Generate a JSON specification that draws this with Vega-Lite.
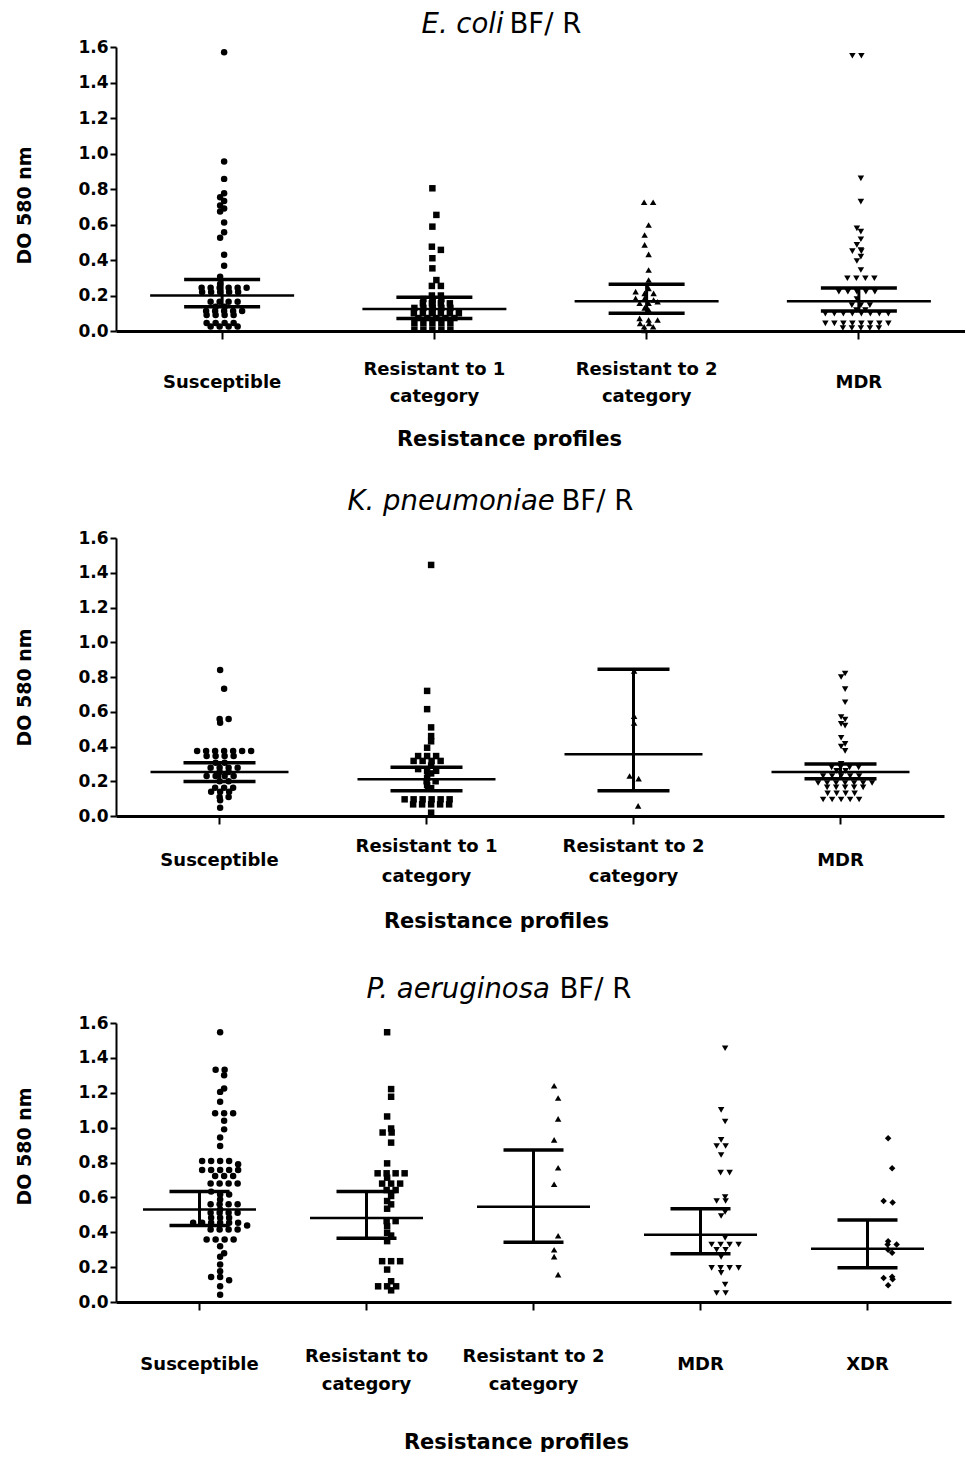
{
"$schema": "https://vega.github.io/schema/vega-lite/v6.json",
"padding": {"left": 14, "top": 10, "right": 0, "bottom": 0},
"bounds": "flush",
"spacing": 207,
"config": {
 "view": {"stroke": null},
 "axis": {"grid": false},
 "axisX": {"labelFont": "DejaVu Sans", "labelFontSize": 18, "labelFontWeight": "bold", "labelColor": "black", "labelAngle": 0, "labelBaseline": "middle", "labelOverlap": false, "labelLimit": 400,
  "tickSize": 8, "tickWidth": 2, "tickColor": "black", "domainColor": "black", "domainWidth": 3,
  "titleFont": "DejaVu Sans", "titleFontSize": 21, "titleFontWeight": "bold", "titleColor": "black", "titleBaseline": "middle", "titleAlign": "center"},
 "axisY": {"labelFont": "DejaVu Sans", "labelFontSize": 17, "labelFontWeight": "bold", "labelColor": "black", "labelPadding": 2, "labelOverlap": false, "tickSize": 6, "tickWidth": 2, "tickColor": "black", "domainColor": "black", "domainWidth": 2,
  "titleFont": "DejaVu Sans", "titleFontSize": 19, "titleFontWeight": "bold", "titleColor": "black", "titleBaseline": "middle", "titleAlign": "center"}
},
"datasets": {
"pts": [
{"p":"E","c":"S","v":1.57},{"p":"E","c":"S","v":0.955},{"p":"E","c":"S","v":0.857},{"p":"E","c":"S","v":0.776},{"p":"E","c":"S","v":0.754},{"p":"E","c":"S","v":0.733},{"p":"E","c":"S","v":0.707},{"p":"E","c":"S","v":0.69},{"p":"E","c":"S","v":0.673},{"p":"E","c":"S","v":0.611},{"p":"E","c":"S","v":0.556},{"p":"E","c":"S","v":0.526},{"p":"E","c":"S","v":0.429},{"p":"E","c":"S","v":0.367},{"p":"E","c":"S","v":0.306},{"p":"E","c":"S","v":0.265},
{"p":"E","c":"S","v":0.244},{"p":"E","c":"S","v":0.244},{"p":"E","c":"S","v":0.244},{"p":"E","c":"S","v":0.244},{"p":"E","c":"S","v":0.244},{"p":"E","c":"S","v":0.244},
{"p":"E","c":"S","v":0.22},{"p":"E","c":"S","v":0.22},{"p":"E","c":"S","v":0.22},{"p":"E","c":"S","v":0.22},{"p":"E","c":"S","v":0.22},
{"p":"E","c":"S","v":0.165},{"p":"E","c":"S","v":0.165},{"p":"E","c":"S","v":0.165},{"p":"E","c":"S","v":0.165},
{"p":"E","c":"S","v":0.137},{"p":"E","c":"S","v":0.137},
{"p":"E","c":"S","v":0.113},{"p":"E","c":"S","v":0.113},{"p":"E","c":"S","v":0.113},{"p":"E","c":"S","v":0.113},{"p":"E","c":"S","v":0.113},
{"p":"E","c":"S","v":0.09},{"p":"E","c":"S","v":0.09},{"p":"E","c":"S","v":0.09},{"p":"E","c":"S","v":0.09},
{"p":"E","c":"S","v":0.045},{"p":"E","c":"S","v":0.045},{"p":"E","c":"S","v":0.045},{"p":"E","c":"S","v":0.045},
{"p":"E","c":"S","v":0.025},{"p":"E","c":"S","v":0.025},{"p":"E","c":"S","v":0.025},{"p":"E","c":"S","v":0.025},

{"p":"E","c":"R1","v":0.804},{"p":"E","c":"R1","v":0.654},{"p":"E","c":"R1","v":0.588},{"p":"E","c":"R1","v":0.475},{"p":"E","c":"R1","v":0.457},{"p":"E","c":"R1","v":0.41},{"p":"E","c":"R1","v":0.353},{"p":"E","c":"R1","v":0.287},{"p":"E","c":"R1","v":0.254},{"p":"E","c":"R1","v":0.254},
{"p":"E","c":"R1","v":0.2},{"p":"E","c":"R1","v":0.2},{"p":"E","c":"R1","v":0.18},{"p":"E","c":"R1","v":0.18},{"p":"E","c":"R1","v":0.18},
{"p":"E","c":"R1","v":0.156},{"p":"E","c":"R1","v":0.156},{"p":"E","c":"R1","v":0.156},{"p":"E","c":"R1","v":0.156},
{"p":"E","c":"R1","v":0.13},{"p":"E","c":"R1","v":0.13},{"p":"E","c":"R1","v":0.13},{"p":"E","c":"R1","v":0.13},{"p":"E","c":"R1","v":0.13},
{"p":"E","c":"R1","v":0.1},{"p":"E","c":"R1","v":0.1},{"p":"E","c":"R1","v":0.1},{"p":"E","c":"R1","v":0.1},{"p":"E","c":"R1","v":0.1},{"p":"E","c":"R1","v":0.1},
{"p":"E","c":"R1","v":0.073},{"p":"E","c":"R1","v":0.073},{"p":"E","c":"R1","v":0.073},{"p":"E","c":"R1","v":0.073},{"p":"E","c":"R1","v":0.073},
{"p":"E","c":"R1","v":0.045},{"p":"E","c":"R1","v":0.045},{"p":"E","c":"R1","v":0.045},{"p":"E","c":"R1","v":0.045},{"p":"E","c":"R1","v":0.045},
{"p":"E","c":"R1","v":0.008},{"p":"E","c":"R1","v":0.008},{"p":"E","c":"R1","v":0.008},{"p":"E","c":"R1","v":0.008},{"p":"E","c":"R1","v":0.008},

{"p":"E","c":"R2","v":0.725},{"p":"E","c":"R2","v":0.725},{"p":"E","c":"R2","v":0.597},{"p":"E","c":"R2","v":0.541},{"p":"E","c":"R2","v":0.485},{"p":"E","c":"R2","v":0.432},{"p":"E","c":"R2","v":0.344},{"p":"E","c":"R2","v":0.287},{"p":"E","c":"R2","v":0.24},{"p":"E","c":"R2","v":0.222},{"p":"E","c":"R2","v":0.212},{"p":"E","c":"R2","v":0.212},{"p":"E","c":"R2","v":0.184},{"p":"E","c":"R2","v":0.184},{"p":"E","c":"R2","v":0.175},{"p":"E","c":"R2","v":0.156},{"p":"E","c":"R2","v":0.156},{"p":"E","c":"R2","v":0.165},{"p":"E","c":"R2","v":0.13},{"p":"E","c":"R2","v":0.12},{"p":"E","c":"R2","v":0.071},{"p":"E","c":"R2","v":0.062},{"p":"E","c":"R2","v":0.062},{"p":"E","c":"R2","v":0.043},{"p":"E","c":"R2","v":0.043},{"p":"E","c":"R2","v":0.024},{"p":"E","c":"R2","v":0.024},{"p":"E","c":"R2","v":0.003},

{"p":"E","c":"MDR","v":1.551},{"p":"E","c":"MDR","v":1.551},{"p":"E","c":"MDR","v":0.86},{"p":"E","c":"MDR","v":0.729},{"p":"E","c":"MDR","v":0.578},{"p":"E","c":"MDR","v":0.56},{"p":"E","c":"MDR","v":0.517},{"p":"E","c":"MDR","v":0.485},{"p":"E","c":"MDR","v":0.456},{"p":"E","c":"MDR","v":0.45},{"p":"E","c":"MDR","v":0.45},{"p":"E","c":"MDR","v":0.419},{"p":"E","c":"MDR","v":0.394},{"p":"E","c":"MDR","v":0.344},
{"p":"E","c":"MDR","v":0.297},{"p":"E","c":"MDR","v":0.297},{"p":"E","c":"MDR","v":0.297},{"p":"E","c":"MDR","v":0.297},
{"p":"E","c":"MDR","v":0.221},{"p":"E","c":"MDR","v":0.221},{"p":"E","c":"MDR","v":0.221},{"p":"E","c":"MDR","v":0.221},{"p":"E","c":"MDR","v":0.221},
{"p":"E","c":"MDR","v":0.18},{"p":"E","c":"MDR","v":0.146},{"p":"E","c":"MDR","v":0.146},{"p":"E","c":"MDR","v":0.146},{"p":"E","c":"MDR","v":0.118},{"p":"E","c":"MDR","v":0.118},
{"p":"E","c":"MDR","v":0.098},{"p":"E","c":"MDR","v":0.098},{"p":"E","c":"MDR","v":0.098},{"p":"E","c":"MDR","v":0.098},{"p":"E","c":"MDR","v":0.098},{"p":"E","c":"MDR","v":0.098},{"p":"E","c":"MDR","v":0.098},{"p":"E","c":"MDR","v":0.098},
{"p":"E","c":"MDR","v":0.043},{"p":"E","c":"MDR","v":0.043},{"p":"E","c":"MDR","v":0.043},{"p":"E","c":"MDR","v":0.043},{"p":"E","c":"MDR","v":0.043},{"p":"E","c":"MDR","v":0.043},{"p":"E","c":"MDR","v":0.043},{"p":"E","c":"MDR","v":0.043},
{"p":"E","c":"MDR","v":0.017},{"p":"E","c":"MDR","v":0.017},{"p":"E","c":"MDR","v":0.017},{"p":"E","c":"MDR","v":0.017},{"p":"E","c":"MDR","v":0.017},

{"p":"K","c":"S","v":0.84},{"p":"K","c":"S","v":0.733},{"p":"K","c":"S","v":0.558},{"p":"K","c":"S","v":0.558},{"p":"K","c":"S","v":0.537},
{"p":"K","c":"S","v":0.374},{"p":"K","c":"S","v":0.374},{"p":"K","c":"S","v":0.374},{"p":"K","c":"S","v":0.374},{"p":"K","c":"S","v":0.374},{"p":"K","c":"S","v":0.374},{"p":"K","c":"S","v":0.374},
{"p":"K","c":"S","v":0.345},{"p":"K","c":"S","v":0.345},{"p":"K","c":"S","v":0.345},{"p":"K","c":"S","v":0.345},
{"p":"K","c":"S","v":0.307},{"p":"K","c":"S","v":0.307},
{"p":"K","c":"S","v":0.278},{"p":"K","c":"S","v":0.278},{"p":"K","c":"S","v":0.278},{"p":"K","c":"S","v":0.278},
{"p":"K","c":"S","v":0.253},{"p":"K","c":"S","v":0.253},
{"p":"K","c":"S","v":0.23},{"p":"K","c":"S","v":0.23},{"p":"K","c":"S","v":0.23},{"p":"K","c":"S","v":0.23},
{"p":"K","c":"S","v":0.2},{"p":"K","c":"S","v":0.2},
{"p":"K","c":"S","v":0.163},{"p":"K","c":"S","v":0.163},{"p":"K","c":"S","v":0.163},
{"p":"K","c":"S","v":0.14},{"p":"K","c":"S","v":0.14},{"p":"K","c":"S","v":0.14},
{"p":"K","c":"S","v":0.11},{"p":"K","c":"S","v":0.11},{"p":"K","c":"S","v":0.09},{"p":"K","c":"S","v":0.048},

{"p":"K","c":"R1","v":1.445},{"p":"K","c":"R1","v":0.72},{"p":"K","c":"R1","v":0.615},{"p":"K","c":"R1","v":0.51},{"p":"K","c":"R1","v":0.46},{"p":"K","c":"R1","v":0.43},{"p":"K","c":"R1","v":0.393},
{"p":"K","c":"R1","v":0.345},{"p":"K","c":"R1","v":0.345},{"p":"K","c":"R1","v":0.345},
{"p":"K","c":"R1","v":0.317},{"p":"K","c":"R1","v":0.317},{"p":"K","c":"R1","v":0.317},{"p":"K","c":"R1","v":0.317},
{"p":"K","c":"R1","v":0.29},{"p":"K","c":"R1","v":0.27},{"p":"K","c":"R1","v":0.26},{"p":"K","c":"R1","v":0.26},{"p":"K","c":"R1","v":0.245},{"p":"K","c":"R1","v":0.22},{"p":"K","c":"R1","v":0.2},{"p":"K","c":"R1","v":0.2},{"p":"K","c":"R1","v":0.178},{"p":"K","c":"R1","v":0.16},
{"p":"K","c":"R1","v":0.096},{"p":"K","c":"R1","v":0.096},{"p":"K","c":"R1","v":0.096},{"p":"K","c":"R1","v":0.096},{"p":"K","c":"R1","v":0.096},{"p":"K","c":"R1","v":0.096},
{"p":"K","c":"R1","v":0.067},{"p":"K","c":"R1","v":0.067},{"p":"K","c":"R1","v":0.067},{"p":"K","c":"R1","v":0.067},{"p":"K","c":"R1","v":0.067},
{"p":"K","c":"R1","v":0.019},

{"p":"K","c":"R2","v":0.835},{"p":"K","c":"R2","v":0.575},{"p":"K","c":"R2","v":0.535},{"p":"K","c":"R2","v":0.23},{"p":"K","c":"R2","v":0.215},{"p":"K","c":"R2","v":0.058},

{"p":"K","c":"MDR","v":0.82},{"p":"K","c":"MDR","v":0.8},{"p":"K","c":"MDR","v":0.73},{"p":"K","c":"MDR","v":0.655},{"p":"K","c":"MDR","v":0.57},{"p":"K","c":"MDR","v":0.555},{"p":"K","c":"MDR","v":0.53},{"p":"K","c":"MDR","v":0.52},{"p":"K","c":"MDR","v":0.45},{"p":"K","c":"MDR","v":0.415},{"p":"K","c":"MDR","v":0.4},{"p":"K","c":"MDR","v":0.375},{"p":"K","c":"MDR","v":0.3},
{"p":"K","c":"MDR","v":0.28},{"p":"K","c":"MDR","v":0.28},{"p":"K","c":"MDR","v":0.28},{"p":"K","c":"MDR","v":0.28},
{"p":"K","c":"MDR","v":0.26},{"p":"K","c":"MDR","v":0.26},
{"p":"K","c":"MDR","v":0.23},{"p":"K","c":"MDR","v":0.23},{"p":"K","c":"MDR","v":0.23},{"p":"K","c":"MDR","v":0.23},{"p":"K","c":"MDR","v":0.23},
{"p":"K","c":"MDR","v":0.19},{"p":"K","c":"MDR","v":0.19},{"p":"K","c":"MDR","v":0.19},{"p":"K","c":"MDR","v":0.19},{"p":"K","c":"MDR","v":0.19},{"p":"K","c":"MDR","v":0.19},{"p":"K","c":"MDR","v":0.19},
{"p":"K","c":"MDR","v":0.165},{"p":"K","c":"MDR","v":0.165},{"p":"K","c":"MDR","v":0.165},{"p":"K","c":"MDR","v":0.165},{"p":"K","c":"MDR","v":0.165},
{"p":"K","c":"MDR","v":0.13},{"p":"K","c":"MDR","v":0.13},{"p":"K","c":"MDR","v":0.13},{"p":"K","c":"MDR","v":0.13},
{"p":"K","c":"MDR","v":0.095},{"p":"K","c":"MDR","v":0.095},{"p":"K","c":"MDR","v":0.095},{"p":"K","c":"MDR","v":0.095},{"p":"K","c":"MDR","v":0.095},

{"p":"P","c":"S","v":1.547},{"p":"P","c":"S","v":1.332},{"p":"P","c":"S","v":1.332},{"p":"P","c":"S","v":1.3},{"p":"P","c":"S","v":1.225},{"p":"P","c":"S","v":1.205},{"p":"P","c":"S","v":1.148},{"p":"P","c":"S","v":1.083},{"p":"P","c":"S","v":1.083},{"p":"P","c":"S","v":1.083},{"p":"P","c":"S","v":1.04},{"p":"P","c":"S","v":0.99},{"p":"P","c":"S","v":0.943},{"p":"P","c":"S","v":0.895},
{"p":"P","c":"S","v":0.809},{"p":"P","c":"S","v":0.809},{"p":"P","c":"S","v":0.809},{"p":"P","c":"S","v":0.809},{"p":"P","c":"S","v":0.79},
{"p":"P","c":"S","v":0.757},{"p":"P","c":"S","v":0.757},{"p":"P","c":"S","v":0.757},{"p":"P","c":"S","v":0.757},{"p":"P","c":"S","v":0.757},
{"p":"P","c":"S","v":0.723},{"p":"P","c":"S","v":0.723},{"p":"P","c":"S","v":0.723},
{"p":"P","c":"S","v":0.679},{"p":"P","c":"S","v":0.679},{"p":"P","c":"S","v":0.679},{"p":"P","c":"S","v":0.679},
{"p":"P","c":"S","v":0.633},{"p":"P","c":"S","v":0.617},{"p":"P","c":"S","v":0.617},{"p":"P","c":"S","v":0.588},
{"p":"P","c":"S","v":0.56},{"p":"P","c":"S","v":0.56},{"p":"P","c":"S","v":0.56},{"p":"P","c":"S","v":0.56},{"p":"P","c":"S","v":0.531},
{"p":"P","c":"S","v":0.512},{"p":"P","c":"S","v":0.512},{"p":"P","c":"S","v":0.512},{"p":"P","c":"S","v":0.512},
{"p":"P","c":"S","v":0.483},{"p":"P","c":"S","v":0.483},{"p":"P","c":"S","v":0.483},
{"p":"P","c":"S","v":0.454},{"p":"P","c":"S","v":0.454},{"p":"P","c":"S","v":0.454},{"p":"P","c":"S","v":0.454},{"p":"P","c":"S","v":0.454},{"p":"P","c":"S","v":0.454},{"p":"P","c":"S","v":0.439},
{"p":"P","c":"S","v":0.416},{"p":"P","c":"S","v":0.416},{"p":"P","c":"S","v":0.416},{"p":"P","c":"S","v":0.416},
{"p":"P","c":"S","v":0.358},{"p":"P","c":"S","v":0.358},{"p":"P","c":"S","v":0.358},{"p":"P","c":"S","v":0.358},
{"p":"P","c":"S","v":0.32},{"p":"P","c":"S","v":0.28},{"p":"P","c":"S","v":0.26},{"p":"P","c":"S","v":0.215},{"p":"P","c":"S","v":0.176},{"p":"P","c":"S","v":0.144},{"p":"P","c":"S","v":0.144},{"p":"P","c":"S","v":0.125},{"p":"P","c":"S","v":0.09},{"p":"P","c":"S","v":0.042},

{"p":"P","c":"R1","v":1.547},{"p":"P","c":"R1","v":1.221},{"p":"P","c":"R1","v":1.177},{"p":"P","c":"R1","v":1.064},{"p":"P","c":"R1","v":0.995},{"p":"P","c":"R1","v":0.972},{"p":"P","c":"R1","v":0.972},{"p":"P","c":"R1","v":0.914},{"p":"P","c":"R1","v":0.795},
{"p":"P","c":"R1","v":0.738},{"p":"P","c":"R1","v":0.738},{"p":"P","c":"R1","v":0.738},{"p":"P","c":"R1","v":0.738},{"p":"P","c":"R1","v":0.713},
{"p":"P","c":"R1","v":0.679},{"p":"P","c":"R1","v":0.679},{"p":"P","c":"R1","v":0.679},{"p":"P","c":"R1","v":0.642},{"p":"P","c":"R1","v":0.642},
{"p":"P","c":"R1","v":0.608},{"p":"P","c":"R1","v":0.579},{"p":"P","c":"R1","v":0.56},{"p":"P","c":"R1","v":0.535},{"p":"P","c":"R1","v":0.464},{"p":"P","c":"R1","v":0.464},{"p":"P","c":"R1","v":0.435},{"p":"P","c":"R1","v":0.397},{"p":"P","c":"R1","v":0.381},{"p":"P","c":"R1","v":0.349},
{"p":"P","c":"R1","v":0.234},{"p":"P","c":"R1","v":0.234},{"p":"P","c":"R1","v":0.234},{"p":"P","c":"R1","v":0.186},{"p":"P","c":"R1","v":0.119},{"p":"P","c":"R1","v":0.09},{"p":"P","c":"R1","v":0.09},{"p":"P","c":"R1","v":0.09},{"p":"P","c":"R1","v":0.067},

{"p":"P","c":"R2","v":1.24},{"p":"P","c":"R2","v":1.17},{"p":"P","c":"R2","v":1.05},{"p":"P","c":"R2","v":0.93},{"p":"P","c":"R2","v":0.77},{"p":"P","c":"R2","v":0.675},{"p":"P","c":"R2","v":0.38},{"p":"P","c":"R2","v":0.3},{"p":"P","c":"R2","v":0.26},{"p":"P","c":"R2","v":0.157},

{"p":"P","c":"MDR","v":1.455},{"p":"P","c":"MDR","v":1.102},{"p":"P","c":"MDR","v":1.035},{"p":"P","c":"MDR","v":0.93},{"p":"P","c":"MDR","v":0.895},{"p":"P","c":"MDR","v":0.895},{"p":"P","c":"MDR","v":0.843},{"p":"P","c":"MDR","v":0.742},{"p":"P","c":"MDR","v":0.742},{"p":"P","c":"MDR","v":0.602},{"p":"P","c":"MDR","v":0.579},{"p":"P","c":"MDR","v":0.579},{"p":"P","c":"MDR","v":0.516},{"p":"P","c":"MDR","v":0.493},{"p":"P","c":"MDR","v":0.368},
{"p":"P","c":"MDR","v":0.33},{"p":"P","c":"MDR","v":0.33},{"p":"P","c":"MDR","v":0.33},{"p":"P","c":"MDR","v":0.33},{"p":"P","c":"MDR","v":0.3},{"p":"P","c":"MDR","v":0.3},{"p":"P","c":"MDR","v":0.259},
{"p":"P","c":"MDR","v":0.196},{"p":"P","c":"MDR","v":0.196},{"p":"P","c":"MDR","v":0.196},{"p":"P","c":"MDR","v":0.196},{"p":"P","c":"MDR","v":0.167},{"p":"P","c":"MDR","v":0.1},{"p":"P","c":"MDR","v":0.052},{"p":"P","c":"MDR","v":0.052},

{"p":"P","c":"XDR","v":0.939},{"p":"P","c":"XDR","v":0.767},{"p":"P","c":"XDR","v":0.579},{"p":"P","c":"XDR","v":0.57},{"p":"P","c":"XDR","v":0.349},{"p":"P","c":"XDR","v":0.33},{"p":"P","c":"XDR","v":0.33},{"p":"P","c":"XDR","v":0.3},{"p":"P","c":"XDR","v":0.282},{"p":"P","c":"XDR","v":0.145},{"p":"P","c":"XDR","v":0.138},{"p":"P","c":"XDR","v":0.13},{"p":"P","c":"XDR","v":0.096}
],
"st": [
{"p":"E","c":"S","med":0.2,"q1":0.137,"q3":0.29},
{"p":"E","c":"R1","med":0.124,"q1":0.07,"q3":0.19},
{"p":"E","c":"R2","med":0.167,"q1":0.1,"q3":0.263},
{"p":"E","c":"MDR","med":0.168,"q1":0.113,"q3":0.242},
{"p":"K","c":"S","med":0.253,"q1":0.198,"q3":0.307},
{"p":"K","c":"R1","med":0.211,"q1":0.145,"q3":0.28},
{"p":"K","c":"R2","med":0.355,"q1":0.145,"q3":0.845},
{"p":"K","c":"MDR","med":0.253,"q1":0.215,"q3":0.3},
{"p":"P","c":"S","med":0.531,"q1":0.439,"q3":0.633},
{"p":"P","c":"R1","med":0.482,"q1":0.366,"q3":0.633},
{"p":"P","c":"R2","med":0.546,"q1":0.343,"q3":0.872},
{"p":"P","c":"MDR","med":0.385,"q1":0.276,"q3":0.535},
{"p":"P","c":"XDR","med":0.305,"q1":0.196,"q3":0.47}
]
},
"vconcat": [
{
"width": 849, "height": 284,
"resolve": {"axis": {"x": "independent", "y": "independent"}},
"layer": [
{"data": {"name": "pts"},
 "transform": [{"filter": "datum.p=='E'"}, {"calculate": "round(datum.v*45)", "as": "vb"}, {"window": [{"op": "row_number", "as": "r"}, {"op": "count", "as": "n"}], "groupby": ["c","vb"], "frame": [null,null]}, {"calculate": "(datum.r-(datum.n+1)/2)*9 + (datum.vb%2==0 ? -2 : 2)", "as": "dx"}],
 "mark": {"type": "point", "filled": true, "opacity": 1, "color": "black", "size": 42},
 "encoding": {
  "x": {"field": "c", "type": "nominal", "sort": null,
   "scale": {"domain": ["S","R1","R2","MDR"], "paddingInner": 0, "paddingOuter": 0},
   "axis": {"title": "Resistance profiles", "labelExpr": "datum.value=='S' ? 'Susceptible' : datum.value=='R1' ? ['Resistant to  1','category'] : datum.value=='R2' ? ['Resistant to  2','category'] : datum.value",
    "labelPadding": {"condition": {"test": "datum.value=='S' || datum.value=='MDR' || datum.value=='XDR'", "value": 43}, "value": 30},
    "labelLineHeight": 27, "titleX": 393, "titleY": 108}},
  "y": {"field": "v", "type": "quantitative", "scale": {"domain": [0,1.6], "nice": false},
   "axis": {"title": "DO 580 nm", "values": [0,0.2,0.4,0.6,0.8,1.0,1.2,1.4,1.6], "format": ".1f", "titleX": -92, "titleY": 158, "titleAngle": -90}},
  "xOffset": {"field": "dx", "type": "quantitative", "scale": {"domain": [-106.125,106.125], "nice": false, "zero": false}},
  "shape": {"field": "c", "type": "nominal", "scale": {"domain": ["S","R1","R2","MDR","XDR"], "range": ["circle","square","triangle-up","triangle-down","diamond"]}, "legend": null}
 }},
{"data": {"name": "st"}, "transform": [{"filter": "datum.p=='E'"}],
 "mark": {"type": "rule", "color": "black", "strokeWidth": 3, "opacity": 1},
 "encoding": {"x": {"field": "c", "type": "nominal", "sort": null, "axis": null}, "y": {"field": "q1", "type": "quantitative", "axis": null}, "y2": {"field": "q3"}}},
{"data": {"name": "st"}, "transform": [{"filter": "datum.p=='E'"}],
 "mark": {"type": "tick", "orient": "horizontal", "color": "black", "size": 144, "thickness": 2.5, "opacity": 1},
 "encoding": {
  "x": {"field": "c", "type": "nominal", "sort": null, "axis": {"orient": "top", "title": "BF/ R", "domain": false, "ticks": false, "labels": false, "titleFontWeight": "normal", "titleFontSize": 27.5, "titleAlign": "left", "titleBaseline": "alphabetic", "titleX": 393, "titleY": -15}},
  "y": {"field": "med", "type": "quantitative", "axis": {"orient": "right", "title": "E. coli", "domain": false, "ticks": false, "labels": false, "titleFontStyle": "italic", "titleFontWeight": "normal", "titleFontSize": 27.5, "titleAngle": 0, "titleAlign": "left", "titleBaseline": "alphabetic", "titleX": -544, "titleY": -15}}}},
{"data": {"name": "st"}, "transform": [{"filter": "datum.p=='E'"}, {"fold": ["q1","q3"], "as": ["k","qv"]}],
 "mark": {"type": "tick", "orient": "horizontal", "color": "black", "size": 76, "thickness": 3.5, "opacity": 1},
 "encoding": {"x": {"field": "c", "type": "nominal", "sort": null, "axis": null}, "y": {"field": "qv", "type": "quantitative", "axis": null}}}
]
},
{
"width": 828, "height": 278,
"resolve": {"axis": {"x": "independent", "y": "independent"}},
"layer": [
{"data": {"name": "pts"},
 "transform": [{"filter": "datum.p=='K'"}, {"calculate": "round(datum.v*45)", "as": "vb"}, {"window": [{"op": "row_number", "as": "r"}, {"op": "count", "as": "n"}], "groupby": ["c","vb"], "frame": [null,null]}, {"calculate": "(datum.r-(datum.n+1)/2)*9 + (datum.vb%2==0 ? -2 : 2)", "as": "dx"}],
 "mark": {"type": "point", "filled": true, "opacity": 1, "color": "black", "size": 42},
 "encoding": {
  "x": {"field": "c", "type": "nominal", "sort": null,
   "scale": {"domain": ["S","R1","R2","MDR"], "paddingInner": 0, "paddingOuter": 0},
   "axis": {"title": "Resistance profiles", "labelExpr": "datum.value=='S' ? 'Susceptible' : datum.value=='R1' ? ['Resistant to  1','category'] : datum.value=='R2' ? ['Resistant to  2','category'] : datum.value",
    "labelPadding": {"condition": {"test": "datum.value=='S' || datum.value=='MDR' || datum.value=='XDR'", "value": 36}, "value": 22},
    "labelLineHeight": 30, "titleX": 380, "titleY": 105}},
  "y": {"field": "v", "type": "quantitative", "scale": {"domain": [0,1.6], "nice": false},
   "axis": {"title": "DO 580 nm", "values": [0,0.2,0.4,0.6,0.8,1.0,1.2,1.4,1.6], "format": ".1f", "titleX": -92, "titleY": 149, "titleAngle": -90}},
  "xOffset": {"field": "dx", "type": "quantitative", "scale": {"domain": [-103.5,103.5], "nice": false, "zero": false}},
  "shape": {"field": "c", "type": "nominal", "scale": {"domain": ["S","R1","R2","MDR","XDR"], "range": ["circle","square","triangle-up","triangle-down","diamond"]}, "legend": null}
 }},
{"data": {"name": "st"}, "transform": [{"filter": "datum.p=='K'"}],
 "mark": {"type": "rule", "color": "black", "strokeWidth": 3, "opacity": 1},
 "encoding": {"x": {"field": "c", "type": "nominal", "sort": null, "axis": null}, "y": {"field": "q1", "type": "quantitative", "axis": null}, "y2": {"field": "q3"}}},
{"data": {"name": "st"}, "transform": [{"filter": "datum.p=='K'"}],
 "mark": {"type": "tick", "orient": "horizontal", "color": "black", "size": 138, "thickness": 2.5, "opacity": 1},
 "encoding": {
  "x": {"field": "c", "type": "nominal", "sort": null, "axis": {"orient": "top", "title": "BF/ R", "domain": false, "ticks": false, "labels": false, "titleFontWeight": "normal", "titleFontSize": 27.5, "titleAlign": "left", "titleBaseline": "alphabetic", "titleX": 445, "titleY": -29}},
  "y": {"field": "med", "type": "quantitative", "axis": {"orient": "right", "title": "K. pneumoniae", "domain": false, "ticks": false, "labels": false, "titleFontStyle": "italic", "titleFontWeight": "normal", "titleFontSize": 27.5, "titleAngle": 0, "titleAlign": "left", "titleBaseline": "alphabetic", "titleX": -597, "titleY": -29}}}},
{"data": {"name": "st"}, "transform": [{"filter": "datum.p=='K'"}, {"fold": ["q1","q3"], "as": ["k","qv"]}],
 "mark": {"type": "tick", "orient": "horizontal", "color": "black", "size": 72, "thickness": 3.5, "opacity": 1},
 "encoding": {"x": {"field": "c", "type": "nominal", "sort": null, "axis": null}, "y": {"field": "qv", "type": "quantitative", "axis": null}}}
]
},
{
"width": 835, "height": 279,
"resolve": {"axis": {"x": "independent", "y": "independent"}},
"layer": [
{"data": {"name": "pts"},
 "transform": [{"filter": "datum.p=='P'"}, {"calculate": "round(datum.v*45)", "as": "vb"}, {"window": [{"op": "row_number", "as": "r"}, {"op": "count", "as": "n"}], "groupby": ["c","vb"], "frame": [null,null]}, {"calculate": "(datum.r-(datum.n+1)/2)*9 + (datum.vb%2==0 ? -2 : 2)", "as": "dx"}],
 "mark": {"type": "point", "filled": true, "opacity": 1, "color": "black", "size": 42},
 "encoding": {
  "x": {"field": "c", "type": "nominal", "sort": null,
   "scale": {"domain": ["S","R1","R2","MDR","XDR"], "paddingInner": 0, "paddingOuter": 0},
   "axis": {"title": "Resistance profiles", "labelExpr": "datum.value=='S' ? 'Susceptible' : datum.value=='R1' ? ['Resistant to','category'] : datum.value=='R2' ? ['Resistant to  2','category'] : datum.value",
    "labelPadding": {"condition": {"test": "datum.value=='S' || datum.value=='MDR' || datum.value=='XDR'", "value": 54}, "value": 46},
    "labelLineHeight": 28, "titleX": 400, "titleY": 140}},
  "y": {"field": "v", "type": "quantitative", "scale": {"domain": [0,1.6], "nice": false},
   "axis": {"title": "DO 580 nm", "values": [0,0.2,0.4,0.6,0.8,1.0,1.2,1.4,1.6], "format": ".1f", "titleX": -92, "titleY": 123, "titleAngle": -90}},
  "xOffset": {"field": "dx", "type": "quantitative", "scale": {"domain": [-83.5,83.5], "nice": false, "zero": false}},
  "shape": {"field": "c", "type": "nominal", "scale": {"domain": ["S","R1","R2","MDR","XDR"], "range": ["circle","square","triangle-up","triangle-down","diamond"]}, "legend": null}
 }},
{"data": {"name": "st"}, "transform": [{"filter": "datum.p=='P'"}],
 "mark": {"type": "rule", "color": "black", "strokeWidth": 3, "opacity": 1},
 "encoding": {"x": {"field": "c", "type": "nominal", "sort": null, "axis": null}, "y": {"field": "q1", "type": "quantitative", "axis": null}, "y2": {"field": "q3"}}},
{"data": {"name": "st"}, "transform": [{"filter": "datum.p=='P'"}],
 "mark": {"type": "tick", "orient": "horizontal", "color": "black", "size": 113, "thickness": 2.5, "opacity": 1},
 "encoding": {
  "x": {"field": "c", "type": "nominal", "sort": null, "axis": {"orient": "top", "title": "BF/ R", "domain": false, "ticks": false, "labels": false, "titleFontWeight": "normal", "titleFontSize": 27.5, "titleAlign": "left", "titleBaseline": "alphabetic", "titleX": 443, "titleY": -26}},
  "y": {"field": "med", "type": "quantitative", "axis": {"orient": "right", "title": "P. aeruginosa", "domain": false, "ticks": false, "labels": false, "titleFontStyle": "italic", "titleFontWeight": "normal", "titleFontSize": 27.5, "titleAngle": 0, "titleAlign": "left", "titleBaseline": "alphabetic", "titleX": -585, "titleY": -26}}}},
{"data": {"name": "st"}, "transform": [{"filter": "datum.p=='P'"}, {"fold": ["q1","q3"], "as": ["k","qv"]}],
 "mark": {"type": "tick", "orient": "horizontal", "color": "black", "size": 60, "thickness": 3.5, "opacity": 1},
 "encoding": {"x": {"field": "c", "type": "nominal", "sort": null, "axis": null}, "y": {"field": "qv", "type": "quantitative", "axis": null}}}
]
}
]
}
